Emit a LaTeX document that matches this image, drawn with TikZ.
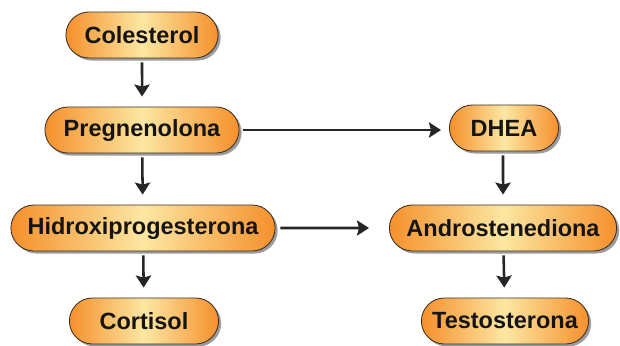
\documentclass[tikz,border=0pt]{standalone}
\usepackage{fontspec}
\setmainfont{Liberation Sans}
\usepackage{xcolor}
\usepackage{tikz}
\usetikzlibrary{shadows,arrows.meta,shapes.misc}
\definecolor{pillorange}{HTML}{F5902C}
\definecolor{pillyellow}{HTML}{FCE7A2}
\definecolor{pilledge}{HTML}{3A2E24}
\tikzset{
  hormonenode/.style={rounded rectangle,
    draw=pilledge,line width=0.6pt,
    left color=pillorange,right color=pillorange,middle color=pillyellow,
    drop shadow={shadow xshift=1.8pt,shadow yshift=-1.8pt,fill=black!60,opacity=0.65},
    minimum height=1.15cm,inner sep=1pt,text=black!92,
    font=\fontsize{16.7}{20}\selectfont\bfseries},
  pathedge/.style={line width=1.8pt,black!85,
    -{Stealth[length=3mm,width=3.8mm,inset=0.5mm]}}
}
\begin{document}
\begin{tikzpicture}
  \useasboundingbox (0,0) rectangle (15.5,-8.625);
  \node[hormonenode,minimum width=3.875cm] (col) at (3.55,-0.875) {Colesterol};
  \node[hormonenode,minimum width=4.925cm] (preg) at (3.55,-3.25) {Pregnenolona};
  \node[hormonenode,minimum width=6.675cm] (hidr) at (3.575,-5.7) {Hidroxiprogesterona};
  \node[hormonenode,minimum width=3.8cm] (cort) at (3.6,-8.025) {Cortisol};

  \node[hormonenode,minimum width=2.8cm] (dhea) at (12.6,-3.2) {DHEA};
  \node[hormonenode,minimum width=5.75cm] (andr) at (12.575,-5.7) {Androstenediona};
  \node[hormonenode,minimum width=4.25cm] (test) at (12.625,-8.025) {Testosterona};

  \draw[pathedge,shorten <=0.1cm,shorten >=0.25cm] (col)--(preg);
  \draw[pathedge,shorten <=0.1cm,shorten >=0.25cm] (preg)--(hidr);
  \draw[pathedge,shorten <=0.1cm,shorten >=0.25cm] (hidr)--(cort);
  \draw[pathedge,shorten <=0.08cm,shorten >=0.2cm] (preg.east)--(preg.east-|dhea.west);
  \draw[pathedge,shorten <=0.12cm,shorten >=0.5cm] (hidr)--(andr);
  \draw[pathedge,shorten <=0.1cm,shorten >=0.25cm] (dhea.south-|andr)--(andr);
  \draw[pathedge,shorten <=0.1cm,shorten >=0.25cm] (andr)--(test);
\end{tikzpicture}
\end{document}
